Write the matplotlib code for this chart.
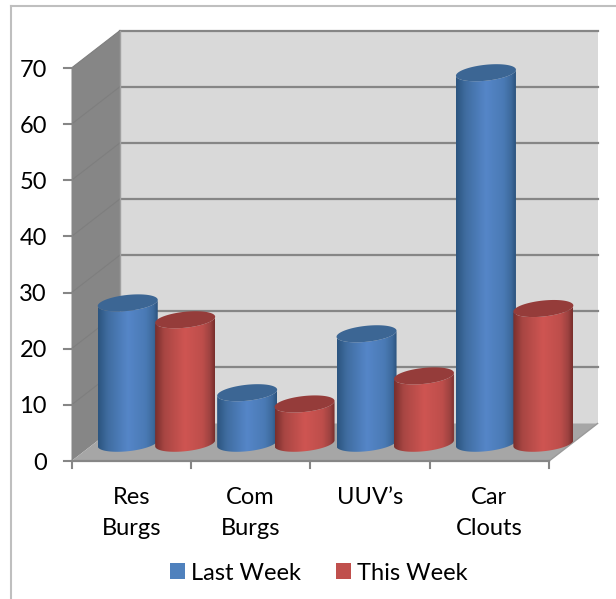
import numpy as np
import matplotlib
matplotlib.use('Agg')
import matplotlib.pyplot as plt
from matplotlib.colors import LinearSegmentedColormap
from matplotlib.patches import Polygon, Rectangle

categories = ['Res\nBurgs', 'Com\nBurgs', 'UUV\u2019s', 'Car\nClouts']
last_week = [25, 9, 19.5, 66]
this_week = [22, 7, 12, 24]
y_ticks = [0, 10, 20, 30, 40, 50, 60, 70]

# pixel scale of the picture, so the fake 3d fits the reference
PX_X = 119.4
PX_Y = 5.614
X0, Y0 = 71.5, 461
W, H = 616, 599
DEPTH_X = 48.5 / PX_X
DEPTH_Y = 37.5 / PX_Y

plt.rcParams['font.family'] = ['Lato', 'DejaVu Sans']
fig = plt.figure(figsize=(W / 100, H / 100), dpi=100)
ax = fig.add_axes([0, 0, 1, 1])
ax.set_xlim(-X0 / PX_X, (W - X0) / PX_X)
ax.set_ylim(-(H - Y0) / PX_Y, Y0 / PX_Y)
ax.axis('off')

n = len(categories)
top = y_ticks[-1]

# walls and floor
ax.add_patch(Polygon([(DEPTH_X, DEPTH_Y), (n + DEPTH_X, DEPTH_Y),
                      (n + DEPTH_X, top + DEPTH_Y), (DEPTH_X, top + DEPTH_Y)],
                     fc='#d9d9d9', ec='none', zorder=1))
ax.add_patch(Polygon([(0, 0), (DEPTH_X, DEPTH_Y), (DEPTH_X, top + DEPTH_Y), (0, top)],
                     fc='#868686', ec='none', zorder=1))
ax.add_patch(Polygon([(0, 0), (n, 0), (n + DEPTH_X, DEPTH_Y), (DEPTH_X, DEPTH_Y)],
                     fc='#a6a6a6', ec='none', zorder=1))

for v in y_ticks:
    if v > 0:
        ax.plot([DEPTH_X, n + DEPTH_X], [v + DEPTH_Y, v + DEPTH_Y], color='#868686', lw=1.6, zorder=2)
        ax.plot([0, DEPTH_X], [v, v + DEPTH_Y], color='#7e7e7e', lw=0.8, zorder=2)
    ax.plot([-8 / PX_X, 0], [v, v], color='#868686', lw=1.5, zorder=2)
    ax.text(-24.5 / PX_X, v - 2 / PX_Y, str(v), ha='right', va='center', fontsize=17, color='black')

ax.plot([0, n], [0, 0], color='#868686', lw=1.6, zorder=2)
ax.plot([n, n + DEPTH_X], [0, DEPTH_Y], color='#9a9a9a', lw=1, zorder=2)
ax.plot([DEPTH_X, DEPTH_X], [DEPTH_Y, top + DEPTH_Y], color='#a0a0a0', lw=1, zorder=2)
for i in range(n + 1):
    ax.plot([i, i], [0, -7 / PX_Y], color='#868686', lw=1.5, zorder=2)


def cylinder(cx, value, cmap, lid, z):
    half = 30 / PX_X
    base = DEPTH_Y / 2 - 1 / PX_Y
    t = np.linspace(0, 2 * np.pi, 121)
    ex = half * np.cos(t)
    ey = (3 * np.cos(t) + 8 * np.sin(t)) / PX_Y
    low = t >= np.pi
    # body outline: bottom half of the base, back along the top
    xs = np.r_[cx + ex[low], (cx + ex[low])[::-1]]
    ys = np.r_[base + ey[low], (base + value + ey[low])[::-1]]
    body = Polygon(np.c_[xs, ys], fc='none', ec='none', zorder=z)
    ax.add_patch(body)
    im = ax.imshow(np.linspace(0, 1, 64)[None, :], cmap=cmap, aspect='auto', zorder=z,
                   extent=(cx - half, cx + half, base - 3, base + value + 3))
    im.set_clip_path(body)
    ax.fill(cx + ex, base + value + ey, color=lid, lw=0, zorder=z + 0.1)


blue = LinearSegmentedColormap.from_list('b', [(0, '#2c5580'), (0.15, '#3f6c9f'), (0.5, '#5586c8'),
                                               (0.8, '#4a7ab5'), (0.93, '#3d6a9c'), (1, '#2c5580')])
red = LinearSegmentedColormap.from_list('r', [(0, '#7a2f2d'), (0.15, '#a84643'), (0.5, '#cf5552'),
                                              (0.8, '#bd4e4b'), (0.93, '#9c4240'), (1, '#7a2f2d')])

offset = 28.7 / PX_X
for i in range(n):
    c = i + 0.5 + DEPTH_X / 2 + 1 / PX_X
    cylinder(c - offset, last_week[i], blue, '#3c6694', 3 + i * 2)
    cylinder(c + offset, this_week[i], red, '#953c3a', 4 + i * 2)
    ax.text(i + 0.5, -26 / PX_Y, categories[i], ha='center', va='top', fontsize=17,
            linespacing=1.6, color='black')

ax.set_xlim(-X0 / PX_X, (W - X0) / PX_X)
ax.set_ylim(-(H - Y0) / PX_Y, Y0 / PX_Y)

handles = [Rectangle((0, 0), 1, 1, fc='#4f81bd'), Rectangle((0, 0), 1, 1, fc='#c0504d')]
ax.legend(handles, ['Last Week', 'This Week'], ncol=2, frameon=False, fontsize=17,
          loc='center', bbox_to_anchor=(319 / W, 1 - 573 / H), handlelength=0.63,
          handleheight=0.63, handletextpad=0.25, columnspacing=1.5)

fig.add_artist(plt.Line2D([11 / W, 11 / W], [0, 1 - 6 / H], color='#bfbfbf', lw=1.5))
fig.add_artist(plt.Line2D([11 / W, 1], [1 - 6 / H, 1 - 6 / H], color='#bfbfbf', lw=1.5))

fig.savefig('out.png', dpi=100)
